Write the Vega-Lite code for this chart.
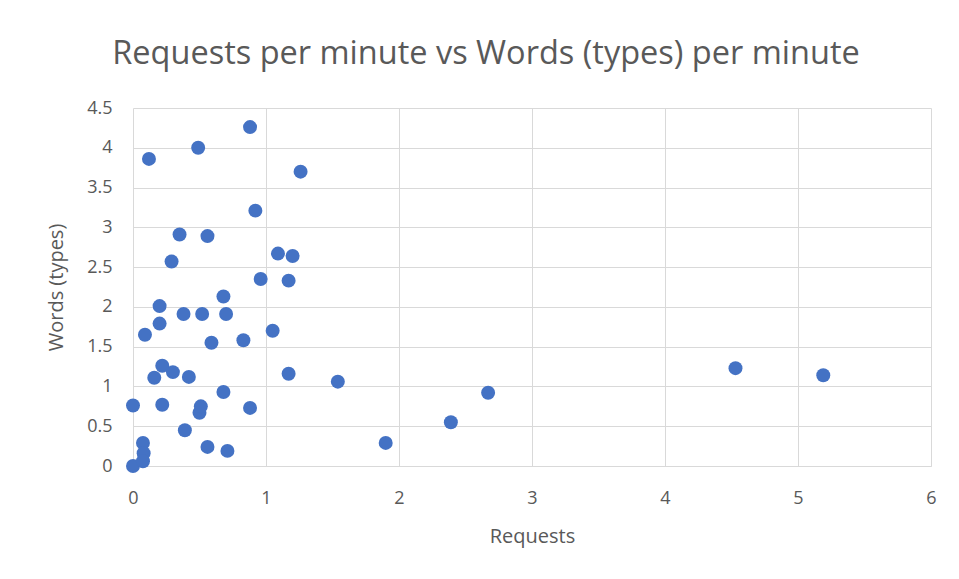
{
  "$schema": "https://vega.github.io/schema/vega-lite/v6.json",
  "autosize": "none",
  "width": 798,
  "height": 358,
  "padding": {"left": 133, "top": 108, "right": 28, "bottom": 113},
  "background": "white",
  "config": {
    "view": {"stroke": null},
    "font": "Open Sans"
  },
  "title": {
    "text": "Requests per minute vs Words (types) per minute",
    "fontSize": 32.5,
    "font": "Open Sans",
    "fontWeight": "normal",
    "color": "#595959",
    "anchor": "middle",
    "dx": -46,
    "offset": 29
  },
  "data": {
    "values": [
      {"Requests": 0, "Words": 0},
      {"Requests": 0, "Words": 0.76},
      {"Requests": 0.075, "Words": 0.29},
      {"Requests": 0.08, "Words": 0.16},
      {"Requests": 0.075, "Words": 0.06},
      {"Requests": 0.12, "Words": 3.86},
      {"Requests": 0.09, "Words": 1.65},
      {"Requests": 0.16, "Words": 1.11},
      {"Requests": 0.2, "Words": 2.01},
      {"Requests": 0.2, "Words": 1.79},
      {"Requests": 0.22, "Words": 1.26},
      {"Requests": 0.22, "Words": 0.77},
      {"Requests": 0.29, "Words": 2.57},
      {"Requests": 0.3, "Words": 1.18},
      {"Requests": 0.35, "Words": 2.91},
      {"Requests": 0.38, "Words": 1.91},
      {"Requests": 0.39, "Words": 0.45},
      {"Requests": 0.42, "Words": 1.12},
      {"Requests": 0.49, "Words": 4.0},
      {"Requests": 0.5, "Words": 0.67},
      {"Requests": 0.51, "Words": 0.75},
      {"Requests": 0.52, "Words": 1.91},
      {"Requests": 0.56, "Words": 2.89},
      {"Requests": 0.56, "Words": 0.24},
      {"Requests": 0.59, "Words": 1.55},
      {"Requests": 0.68, "Words": 2.13},
      {"Requests": 0.68, "Words": 0.93},
      {"Requests": 0.7, "Words": 1.91},
      {"Requests": 0.71, "Words": 0.19},
      {"Requests": 0.83, "Words": 1.58},
      {"Requests": 0.88, "Words": 4.26},
      {"Requests": 0.88, "Words": 0.73},
      {"Requests": 0.92, "Words": 3.21},
      {"Requests": 0.96, "Words": 2.35},
      {"Requests": 1.05, "Words": 1.7},
      {"Requests": 1.09, "Words": 2.67},
      {"Requests": 1.17, "Words": 2.33},
      {"Requests": 1.17, "Words": 1.16},
      {"Requests": 1.2, "Words": 2.64},
      {"Requests": 1.26, "Words": 3.7},
      {"Requests": 1.54, "Words": 1.06},
      {"Requests": 1.9, "Words": 0.29},
      {"Requests": 2.39, "Words": 0.55},
      {"Requests": 2.67, "Words": 0.92},
      {"Requests": 4.53, "Words": 1.23},
      {"Requests": 5.19, "Words": 1.14}
    ]
  },
  "mark": {"type": "point", "filled": true, "opacity": 1, "color": "#4472C4", "size": 195, "clip": false},
  "encoding": {
    "x": {
      "field": "Requests",
      "type": "quantitative",
      "scale": {"domain": [0, 6], "nice": false},
      "axis": {
        "title": "Requests",
        "values": [0, 1, 2, 3, 4, 5, 6],
        "format": "~g",
        "labelFlush": false,
        "labelOverlap": false,
        "grid": true,
        "gridColor": "#d9d9d9",
        "gridWidth": 1,
        "domainColor": "#d9d9d9",
        "domainWidth": 1,
        "ticks": false,
        "labelPadding": 23,
        "labelFontSize": 18,
        "labelColor": "#595959",
        "labelFont": "Open Sans",
        "titleFontSize": 20,
        "titleFontWeight": "normal",
        "titleColor": "#595959",
        "titleFont": "Open Sans",
        "titlePadding": 19
      }
    },
    "y": {
      "field": "Words",
      "type": "quantitative",
      "scale": {"domain": [0, 4.5], "nice": false},
      "axis": {
        "title": "Words (types)",
        "values": [0, 0.5, 1, 1.5, 2, 2.5, 3, 3.5, 4, 4.5],
        "format": "~g",
        "labelFlush": false,
        "labelOverlap": false,
        "grid": true,
        "gridColor": "#d9d9d9",
        "gridWidth": 1,
        "domain": false,
        "ticks": false,
        "labelPadding": 21,
        "labelFontSize": 18,
        "labelColor": "#595959",
        "labelFont": "Open Sans",
        "titleFontSize": 20,
        "titleFontWeight": "normal",
        "titleColor": "#595959",
        "titleFont": "Open Sans",
        "titlePadding": 20
      }
    }
  }
}
